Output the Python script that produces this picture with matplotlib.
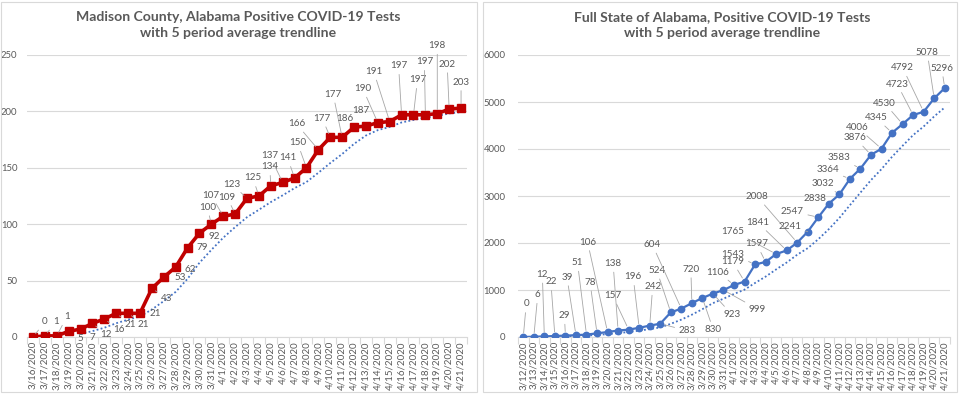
import matplotlib
matplotlib.use("Agg")
import matplotlib.pyplot as plt
import pandas as pd
from matplotlib.patches import Rectangle

# ---------------- data ----------------
county_dates = ["3/16/2020", "3/17/2020", "3/18/2020", "3/19/2020", "3/20/2020", "3/21/2020",
                "3/22/2020", "3/23/2020", "3/24/2020", "3/25/2020", "3/26/2020", "3/27/2020",
                "3/28/2020", "3/29/2020", "3/30/2020", "3/31/2020", "4/1/2020", "4/2/2020",
                "4/3/2020", "4/4/2020", "4/5/2020", "4/6/2020", "4/7/2020", "4/8/2020",
                "4/9/2020", "4/10/2020", "4/11/2020", "4/12/2020", "4/13/2020", "4/14/2020",
                "4/15/2020", "4/16/2020", "4/17/2020", "4/18/2020", "4/19/2020", "4/20/2020",
                "4/21/2020"]
county_cases = [0, 1, 1, 5, 7, 12, 16, 21, 21, 21, 43, 53, 62, 79, 92, 100, 107, 109,
                123, 125, 134, 137, 141, 150, 166, 177, 177, 186, 187, 190, 191, 197,
                197, 197, 198, 202, 203]

state_dates = ["3/12/2020", "3/13/2020", "3/14/2020", "3/15/2020", "3/16/2020", "3/17/2020",
               "3/18/2020", "3/19/2020", "3/20/2020", "3/21/2020", "3/22/2020", "3/23/2020",
               "3/24/2020", "3/25/2020", "3/26/2020", "3/27/2020", "3/28/2020", "3/29/2020",
               "3/30/2020", "3/31/2020", "4/1/2020", "4/2/2020", "4/3/2020", "4/4/2020",
               "4/5/2020", "4/6/2020", "4/7/2020", "4/8/2020", "4/9/2020", "4/10/2020",
               "4/11/2020", "4/12/2020", "4/13/2020", "4/14/2020", "4/15/2020", "4/16/2020",
               "4/17/2020", "4/18/2020", "4/19/2020", "4/20/2020", "4/21/2020"]
state_cases = [0, 6, 12, 22, 29, 39, 51, 78, 106, 138, 157, 196, 242, 283, 524, 604, 720,
               830, 923, 999, 1106, 1179, 1543, 1597, 1765, 1841, 2008, 2241, 2547, 2838,
               3032, 3364, 3583, 3876, 4006, 4345, 4530, 4723, 4792, 5078, 5296]

county_ticks = [0, 50, 100, 150, 200, 250]
state_ticks = [0, 1000, 2000, 3000, 4000, 5000, 6000]

# data-label placement (offset in pixels from each point)
county_label_offsets = [(12, 15), (11, 14), (10, 19), (12, -7), (12, -8), (14, -11), (15, -11),
                        (14, -11), (15, -11), (15, 0), (15, -10), (16, 0), (15, -2), (15, 0),
                        (15, -3), (-4, 17), (-12, 21), (-8, 17), (-15, 14), (-6, 18), (-1, 19),
                        (-13, 27), (-7, 20), (-9, 25), (-22, 26), (-8, 19), (-9, 43), (-9, 9),
                        (-5, 16), (-15, 34), (-16, 50), (-3, 49), (4, 35), (-1, 53), (0, 68),
                        (-2, 45), (0, 26)]
state_label_offsets = [(3, 33), (4, 42), (-2, 62), (-4, 54), (-1, 20), (-9, 58), (-9, 72),
                       (-7, 51), (-20, 90), (-5, 67), (-16, 34), (-6, 51), (3, 39), (27, -7),
                       (-14, 42), (-29, 64), (-1, 34), (11, -32), (19, -21), (34, -19),
                       (-16, 13), (-12, 20), (-22, 10), (-9, 18), (-43, 23), (-29, 28),
                       (-40, 46), (-18, 5), (-26, 6), (-14, 5), (-16, 11), (-22, 9), (-21, 11),
                       (-16, 17), (-24, 21), (-16, 15), (-18, 21), (-16, 31), (-21, 44),
                       (-7, 46), (-3, 20)]

# ---------------- style ----------------
plt.rcParams['font.family'] = ['Lato', 'DejaVu Sans']
TXT = '#595959'
GRID = '#D9D9D9'
W, H = 959, 395

fig = plt.figure(figsize=(W / 100, H / 100), dpi=100)
fig.patch.set_facecolor('white')


def px_rect(x0, y0, x1, y1):
    return [x0 / W, 1 - y1 / H, (x1 - x0) / W, (y1 - y0) / H]


def make_chart(rect, dates, values, yticks, color, marker, msize, lw,
               offsets, title, title_cx, ypad):
    ax = fig.add_axes(px_rect(*rect))
    n = len(values)
    xs = list(range(n))
    trend = pd.Series(values).rolling(5).mean()
    ax.plot(xs, trend, color='#4472C4', lw=1.3, ls=(0, (1, 1.3)), zorder=2)
    ax.plot(xs, values, color=color, lw=lw, marker=marker, ms=msize,
            markeredgecolor=color, markerfacecolor=color, zorder=3)
    for i, v in enumerate(values):
        dx, dy = offsets[i]
        dist = (dx * dx + dy * dy) ** 0.5
        ap = None
        if dist > 17:
            ap = dict(arrowstyle='-', color='#A6A6A6', lw=0.6, shrinkA=1, shrinkB=3)
        ax.annotate(str(v), (i, v), xytext=(dx, dy), textcoords='offset pixels',
                    ha='center', va='center', fontsize=7.1, color=TXT,
                    arrowprops=ap, zorder=4)
    ax.set_xlim(-0.5, n - 0.5)
    ax.set_ylim(yticks[0], yticks[-1])
    ax.set_yticks(yticks)
    ax.set_yticklabels([str(t) for t in yticks], fontsize=6.8, color=TXT)
    ax.set_xticks(xs)
    ax.set_xticklabels(dates, rotation=90, fontsize=7, color=TXT)
    ax.set_xticks([i - 0.5 for i in range(n + 1)], minor=True)
    ax.tick_params(axis='x', which='major', length=0, pad=3)
    ax.tick_params(axis='x', which='minor', length=5, color=GRID, width=0.8)
    ax.tick_params(axis='y', length=0, pad=ypad)
    ax.grid(axis='y', color=GRID, lw=0.8)
    ax.set_axisbelow(True)
    for s in ['top', 'right', 'left']:
        ax.spines[s].set_visible(False)
    ax.spines['bottom'].set_color(GRID)
    ax.spines['bottom'].set_linewidth(0.8)
    fig.text(title_cx / W, 1 - 25 / H, title, ha='center', va='center',
             fontsize=10.1, fontweight='bold', color=TXT, linespacing=1.4)
    return ax


# chart frames
fig.patches.append(Rectangle((1 / W, 1 - 392 / H), 476 / W, 390 / H, transform=fig.transFigure,
                             fill=False, edgecolor=GRID, lw=0.8))
fig.patches.append(Rectangle((483 / W, 1 - 392 / H), 474 / W, 390 / H, transform=fig.transFigure,
                             fill=False, edgecolor=GRID, lw=0.8))

make_chart((27, 55, 467, 337), county_dates, county_cases, county_ticks,
           '#C00000', 's', 5.2, 2.6, county_label_offsets,
           "Madison County, Alabama Positive COVID-19 Tests\nwith 5 period average trendline", 238, 7)
make_chart((518, 55, 950, 337), state_dates, state_cases, state_ticks,
           '#4472C4', 'o', 4.6, 1.6, state_label_offsets,
           "Full State of Alabama, Positive COVID-19 Tests\nwith 5 period average trendline", 722, 9)

fig.savefig('out.png', dpi=100, facecolor='white')
